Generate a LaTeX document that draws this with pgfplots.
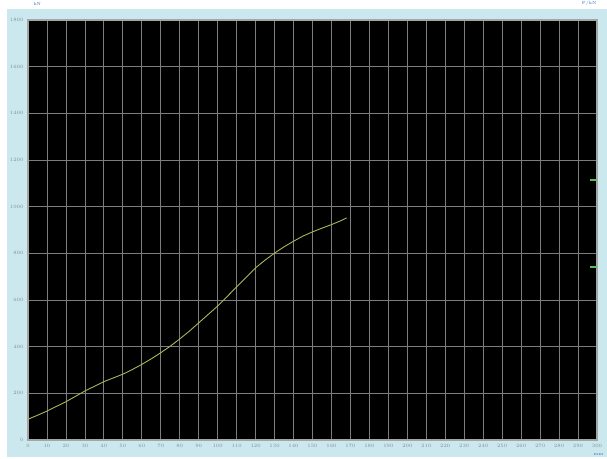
\documentclass[border=0pt]{standalone}
\usepackage{pgfplots}
\pgfplotsset{compat=1.18}
\definecolor{bgblue}{RGB}{202,232,238}
\definecolor{gridgray}{RGB}{125,125,125}
\definecolor{framegray}{RGB}{165,165,165}
\definecolor{curve}{RGB}{175,180,90}
\definecolor{ticktext}{RGB}{130,140,150}
\definecolor{unitblue}{RGB}{60,110,200}
\definecolor{marker}{RGB}{90,190,90}
\begin{document}
\begin{tikzpicture}[x=1bp,y=1bp]
\useasboundingbox (0,0) rectangle (607,459);
\fill[white] (0,0) rectangle (607,459);
\fill[bgblue] (7,2) rectangle (607,450);
\begin{axis}[
  at={(28bp,19bp)}, anchor=south west,
  scale only axis, width=569bp, height=420bp,
  xmin=0, xmax=300, ymin=0, ymax=1800,
  xtick={0,10,...,300}, ytick={0,200,...,1800},
  /pgf/number format/set thousands separator={},
  grid=major,
  major grid style={gridgray, line width=0.8pt},
  axis line style={framegray, line width=1.4pt},
  axis background/.style={fill=black},
  tick style={draw=none},
  tick label style={font=\fontsize{4.5}{5}\selectfont, text=ticktext},
  xticklabel style={yshift=-1bp},
  yticklabel style={xshift=-1bp},
  clip=true,
]
\addplot[curve, line width=0.9pt] coordinates {
(0,89)(5,106)(10,124)(15,144)(20,164)(25,187)(30,210)(35,230)(40,250)
(45,266)(50,282)(55,302)(60,324)(65,348)(70,374)(75,402)(80,433)(85,466)
(90,502)(95,538)(100,574)(105,615)(110,656)(115,697)(120,738)(125,771)
(130,801)(135,828)(140,852)(145,874)(150,892)(155,908)(160,923)(165,940)(168,952)
};
\addplot[marker, line width=1.2pt] coordinates {(296.5,1114)(300,1114)};
\addplot[marker, line width=1.2pt] coordinates {(296.5,741)(300,741)};
\end{axis}
\node[font=\fontsize{4.5}{5}\selectfont, text=unitblue, anchor=south west] at (30,450) {kN};
\node[font=\fontsize{4.5}{5}\selectfont, text=unitblue, anchor=south east] at (600,450) {F/kN};
\node[font=\fontsize{4.5}{5}\selectfont, text=unitblue, anchor=north east] at (607,9) {mm};
\end{tikzpicture}
\end{document}
